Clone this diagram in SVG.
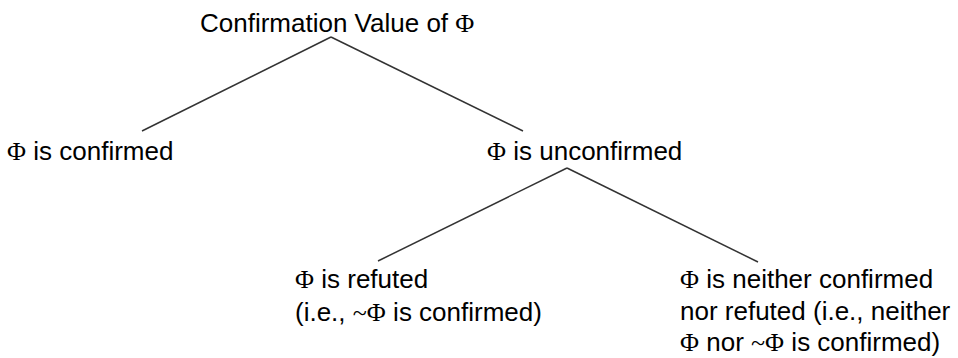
<svg xmlns="http://www.w3.org/2000/svg" width="958" height="358" viewBox="0 0 958 358">
<style>
text{font-family:"Liberation Sans",Arial,sans-serif;font-size:26px;fill:#000}
.g{font-family:"Liberation Serif","Times New Roman",serif}
.c line{stroke:#333;stroke-width:1.5;fill:none}
</style>
<rect width="958" height="358" fill="#fff"/>
<g class="c" id="connectors">
<line x1="331" y1="37" x2="142" y2="131"/>
<line x1="331" y1="37" x2="523" y2="131"/>
<line x1="567" y1="168" x2="378" y2="261"/>
<line x1="567" y1="168" x2="758" y2="262"/>
</g>
<g id="root"><text x="200" y="32">Confirmation Value of <tspan class="g">Φ</tspan></text></g>
<g id="confirmed"><text x="7" y="160"><tspan class="g">Φ</tspan> is confirmed</text></g>
<g id="unconfirmed"><text x="487" y="160"><tspan class="g">Φ</tspan> is unconfirmed</text></g>
<g id="refuted">
<text x="295" y="288"><tspan class="g">Φ</tspan> is refuted</text>
<text x="295" y="321">(i.e., <tspan class="g">~Φ</tspan> is confirmed)</text>
</g>
<g id="neither">
<text x="680" y="288"><tspan class="g">Φ</tspan> is neither confirmed</text>
<text x="680" y="320">nor refuted (i.e., neither</text>
<text x="680" y="351"><tspan class="g">Φ</tspan> nor <tspan class="g">~Φ</tspan> is confirmed)</text>
</g>
</svg>
